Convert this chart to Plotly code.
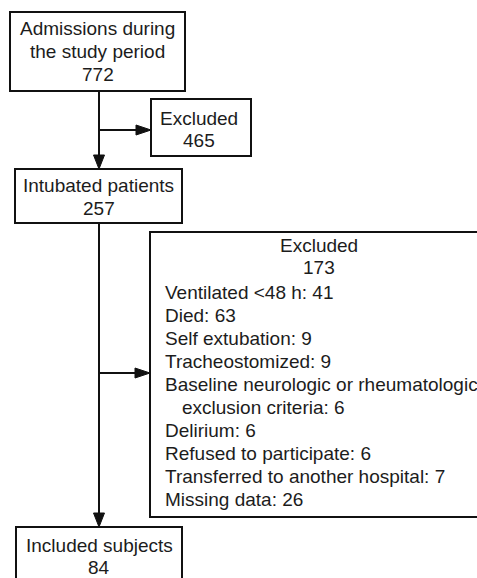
import plotly.graph_objects as go

# ---- data ----
admissions = 772
excluded_first = 465
intubated = 257
excluded_second = 173
reason_labels = ["Ventilated <48 h", "Died", "Self extubation", "Tracheostomized",
                 "Baseline neurologic or rheumatologic|exclusion criteria",
                 "Delirium", "Refused to participate",
                 "Transferred to another hospital", "Missing data"]
reason_counts = [41, 63, 9, 9, 6, 6, 6, 7, 26]
included = 84

# ---- layout geometry (page pixels) ----
W, H = 477, 578
FONT = dict(family="Liberation Sans, Arial, sans-serif", size=19, color="#1c1c1c")
LC = "#111111"
LW = 2

boxes = {
    "adm": (10, 12, 185, 91),
    "ex1": (151, 99, 251, 156),
    "int": (15, 169, 182, 223),
    "ex2": (150, 232, 490, 517),
    "inc": (16, 527, 182, 600),
}
main_x = 99

shapes = []
for (x0, y0, x1, y1) in boxes.values():
    shapes.append(dict(type="rect", x0=x0, y0=y0, x1=x1, y1=y1, xref="x", yref="y",
                       line=dict(color=LC, width=LW), fillcolor="white", layer="above"))

def line(x0, y0, x1, y1):
    shapes.append(dict(type="line", x0=x0, y0=y0, x1=x1, y1=y1, xref="x", yref="y",
                       line=dict(color=LC, width=LW), layer="above"))

def arrow_down(x, ytip, L=14, hw=5.5):
    shapes.append(dict(type="path", xref="x", yref="y",
                       path=f"M {x} {ytip} L {x-hw} {ytip-L} L {x+hw} {ytip-L} Z",
                       fillcolor=LC, line=dict(color=LC, width=1), layer="above"))

def arrow_right(xtip, y, L=15, hw=5):
    shapes.append(dict(type="path", xref="x", yref="y",
                       path=f"M {xtip} {y} L {xtip-L} {y-hw} L {xtip-L} {y+hw} Z",
                       fillcolor=LC, line=dict(color=LC, width=1), layer="above"))

# connectors
line(main_x, boxes["adm"][3], main_x, boxes["int"][1] - 10)
arrow_down(main_x, boxes["int"][1])
line(main_x, 130, boxes["ex1"][0] - 12, 130)
arrow_right(boxes["ex1"][0], 130)
line(main_x, boxes["int"][3], main_x, boxes["inc"][1] - 10)
arrow_down(main_x, boxes["inc"][1])
line(main_x, 373, boxes["ex2"][0] - 12, 373)
arrow_right(boxes["ex2"][0], 373)

annotations = []
def txt(x, y, s, anchor="center"):
    annotations.append(dict(x=x, y=y, xref="x", yref="y", text=s, showarrow=False,
                            xanchor=anchor, yanchor="middle", font=FONT))

cx = lambda b: (boxes[b][0] + boxes[b][2]) / 2
txt(cx("adm"), 28, "Admissions during")
txt(cx("adm"), 51, "the study period")
txt(cx("adm"), 74, str(admissions))
txt(199, 118, "Excluded")
txt(199, 140, str(excluded_first))
txt(cx("int"), 185, "Intubated patients")
txt(cx("int"), 208, str(intubated))
txt(319, 245, "Excluded")
txt(319, 267, str(excluded_second))

y = 292
step = 23.1
for lab, cnt in zip(reason_labels, reason_counts):
    parts = lab.split("|")
    for i, p in enumerate(parts):
        s = p + (f": {cnt}" if i == len(parts) - 1 else "")
        txt(163 if i == 0 else 180, y, s, anchor="left")
        y += step

txt(cx("inc"), 545, "Included subjects")
txt(cx("inc"), 567, str(included))

fig = go.Figure()
fig.update_layout(
    width=W, height=H, margin=dict(l=0, r=0, t=0, b=0),
    paper_bgcolor="white", plot_bgcolor="white",
    xaxis=dict(range=[0, W], visible=False, fixedrange=True),
    yaxis=dict(range=[H, 0], visible=False, fixedrange=True),
    shapes=shapes, annotations=annotations, showlegend=False,
)
fig.write_html(
    "out.html",
    config={"displayModeBar": False},
    post_script="document.body.style.margin='0';document.body.style.overflow='hidden';",
)
